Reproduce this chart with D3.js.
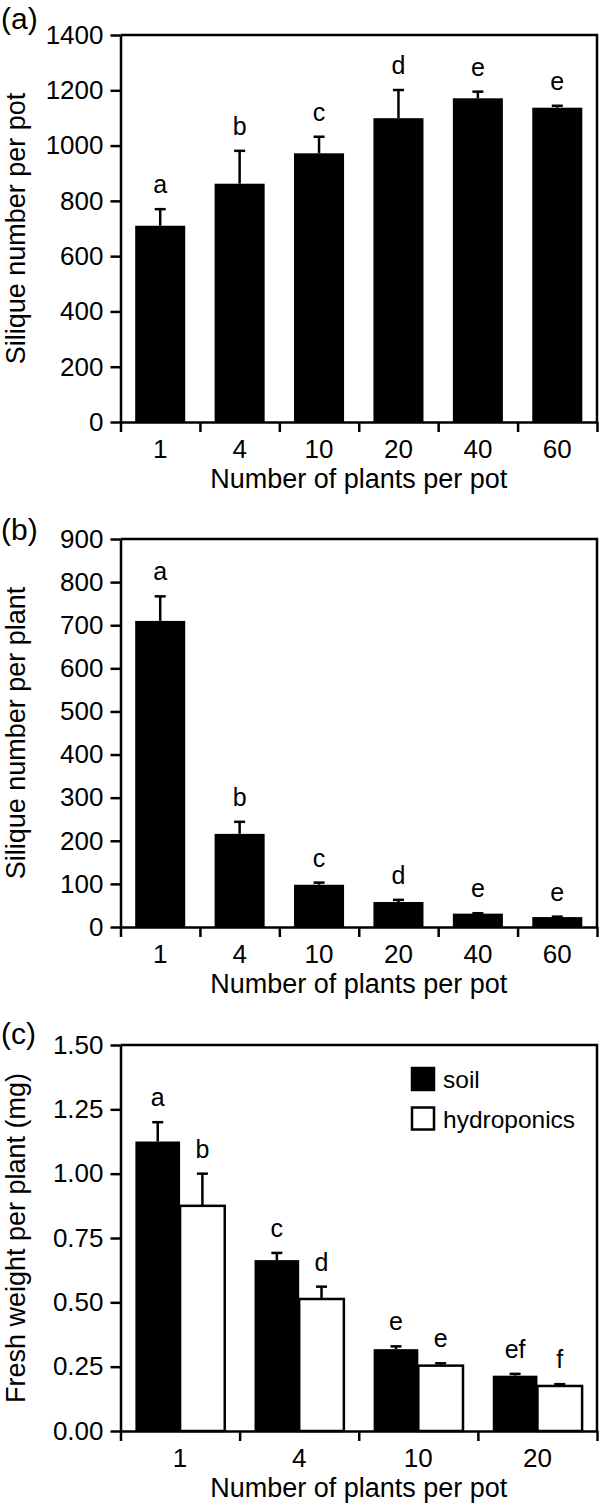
<!DOCTYPE html>
<html>
<head>
<meta charset="utf-8">
<script src="https://cdn.jsdelivr.net/npm/d3@7"></script>
<style>
  html, body { margin: 0; padding: 0; background: #fff; }
  svg { display: block; font-family: "Liberation Sans", Arial, Helvetica, sans-serif; }
</style>
</head>
<body>
<div id="chart"></div>
<script>
// ── data ─────────────────────────────────────────────────
const plantsAB = ['1', '4', '10', '20', '40', '60'];

const siliquePerPot = [710, 862, 972, 1099, 1171, 1137];
const siliquePerPotErr = [60, 119, 60, 102, 24, 7];
const lettersA = ['a', 'b', 'c', 'd', 'e', 'e'];
const ticksA = [0, 200, 400, 600, 800, 1000, 1200, 1400];

const siliquePerPlant = [710, 216, 98, 58, 31, 23];
const siliquePerPlantErr = [57, 28, 5, 5, 1, 1];
const lettersB = ['a', 'b', 'c', 'd', 'e', 'e'];
const ticksB = [0, 100, 200, 300, 400, 500, 600, 700, 800, 900];

const plantsC = ['1', '4', '10', '20'];
const soilWeight = [1.125, 0.664, 0.318, 0.215];
const soilErr = [0.075, 0.028, 0.011, 0.007];
const hydroWeight = [0.875, 0.513, 0.254, 0.175];
const hydroErr = [0.125, 0.048, 0.009, 0.007];
const lettersSoil = ['a', 'c', 'e', 'ef'];
const lettersHydro = ['b', 'd', 'e', 'f'];
const ticksC = [0, 0.25, 0.5, 0.75, 1.0, 1.25, 1.5];

const seriesNames = ['soil', 'hydroponics'];
const seriesFills = ['#000', '#fff'];

// ── layout ───────────────────────────────────────────────
const W = 600, H = 1504;
const X0 = 120.5, X1 = 597;
const STROKE = 2.5;
const TICK_FONT = 26;
const TITLE_FONT = 27;
const FONT = '"Liberation Sans", Arial, Helvetica, sans-serif';

const svg = d3.select('#chart').append('svg')
  .attr('width', W).attr('height', H)
  .attr('viewBox', `0 0 ${W} ${H}`);

function drawPanel({ top, bottom, label, labelY, categories, ticks, fmt, yTitle, series }) {
  const g = svg.append('g');

  const y = d3.scaleLinear()
    .domain([0, ticks[ticks.length - 1]])
    .range([bottom, top]);

  const x = d3.scaleBand()
    .domain(categories)
    .range([X0, X1]);

  // bars inside each category band
  const groupW = series.length === 1 ? x.bandwidth() * 0.63 : x.bandwidth() * 0.75;
  const sub = d3.scaleBand()
    .domain(d3.range(series.length))
    .range([(x.bandwidth() - groupW) / 2, (x.bandwidth() + groupW) / 2]);

  series.forEach((s, si) => {
    const rows = categories.map((c, i) => ({ c, v: s.values[i], e: s.errs[i], l: s.letters[i] }));
    const cx = (d) => x(d.c) + sub(si) + sub.bandwidth() / 2;
    const sg = g.append('g');

    // error bars, upper half only
    const eb = sg.selectAll('g.err').data(rows).join('g').attr('class', 'err');
    eb.append('line')
      .attr('x1', cx).attr('x2', cx)
      .attr('y1', (d) => y(d.v))
      .attr('y2', (d) => y(d.v + d.e))
      .attr('stroke', '#000').attr('stroke-width', STROKE);
    eb.append('line')
      .attr('x1', (d) => cx(d) - 5.5)
      .attr('x2', (d) => cx(d) + 5.5)
      .attr('y1', (d) => y(d.v + d.e))
      .attr('y2', (d) => y(d.v + d.e))
      .attr('stroke', '#000').attr('stroke-width', STROKE);

    sg.selectAll('rect').data(rows).join('rect')
      .attr('x', (d) => x(d.c) + sub(si))
      .attr('width', sub.bandwidth())
      .attr('y', (d) => y(d.v))
      .attr('height', (d) => bottom - y(d.v))
      .attr('fill', s.fill)
      .attr('stroke', '#000')
      .attr('stroke-width', s.fill === '#fff' ? STROKE : 0);

    sg.selectAll('text').data(rows).join('text')
      .attr('x', cx)
      .attr('y', (d) => y(d.v + d.e) - 16)
      .attr('text-anchor', 'middle')
      .attr('font-size', 25)
      .text((d) => d.l);
  });

  // frame: top + right
  g.append('path')
    .attr('d', `M${X0},${top}H${X1}V${bottom}`)
    .attr('fill', 'none').attr('stroke', '#000').attr('stroke-width', STROKE);

  // y axis
  const yAxis = g.append('g')
    .attr('transform', `translate(${X0},0)`)
    .call(d3.axisLeft(y).tickValues(ticks).tickFormat(fmt).tickSize(10).tickPadding(7).tickSizeOuter(0));

  // x axis: ticks sit on band boundaries, labels in band centres
  const edges = d3.scaleLinear().domain([0, categories.length]).range([X0, X1]);
  const xTicks = g.append('g')
    .attr('transform', `translate(0,${bottom})`)
    .call(d3.axisBottom(edges).tickValues(d3.range(categories.length + 1)).tickFormat('').tickSize(10).tickSizeOuter(0));
  const xLabels = g.append('g')
    .attr('transform', `translate(0,${bottom})`)
    .call(d3.axisBottom(x).tickSize(0).tickPadding(18));
  xLabels.select('.domain').remove();

  [yAxis, xTicks, xLabels].forEach((ax) => {
    ax.selectAll('path, line').attr('stroke', '#000').attr('stroke-width', STROKE);
    ax.selectAll('text').attr('fill', '#000').attr('font-size', TICK_FONT).attr('font-family', FONT);
  });

  g.append('text')
    .attr('x', (X0 + X1) / 2).attr('y', bottom + 66)
    .attr('text-anchor', 'middle').attr('font-size', TITLE_FONT)
    .text('Number of plants per pot');

  g.append('text')
    .attr('transform', `translate(25,${(top + bottom) / 2}) rotate(-90)`)
    .attr('text-anchor', 'middle').attr('font-size', TITLE_FONT)
    .text(yTitle);

  g.append('text')
    .attr('x', 1).attr('y', labelY)
    .attr('font-size', 30)
    .text(label);

  return { g, x, y };
}

drawPanel({
  top: 35, bottom: 422, label: '(a)', labelY: 29,
  categories: plantsAB, ticks: ticksA, fmt: d3.format('d'),
  yTitle: 'Silique number per pot',
  series: [{ values: siliquePerPot, errs: siliquePerPotErr, letters: lettersA, fill: '#000' }],
});

drawPanel({
  top: 539, bottom: 927, label: '(b)', labelY: 540,
  categories: plantsAB, ticks: ticksB, fmt: d3.format('d'),
  yTitle: 'Silique number per plant',
  series: [{ values: siliquePerPlant, errs: siliquePerPlantErr, letters: lettersB, fill: '#000' }],
});

const pc = drawPanel({
  top: 1045, bottom: 1431, label: '(c)', labelY: 1044,
  categories: plantsC, ticks: ticksC, fmt: d3.format('.2f'),
  yTitle: 'Fresh weight per plant (mg)',
  series: [
    { values: soilWeight, errs: soilErr, letters: lettersSoil, fill: seriesFills[0] },
    { values: hydroWeight, errs: hydroErr, letters: lettersHydro, fill: seriesFills[1] },
  ],
});

// legend
const legend = pc.g.append('g').attr('transform', 'translate(412,1068)');
const lg = legend.selectAll('g').data(seriesNames).join('g')
  .attr('transform', (d, i) => `translate(0,${i * 39.5})`);
lg.append('rect')
  .attr('x', 0).attr('y', 0).attr('width', 22).attr('height', 22)
  .attr('fill', (d, i) => seriesFills[i])
  .attr('stroke', '#000').attr('stroke-width', STROKE);
lg.append('text')
  .attr('x', 31).attr('y', 20)
  .attr('font-size', 24.5)
  .text((d) => d);
</script>
</body>
</html>
